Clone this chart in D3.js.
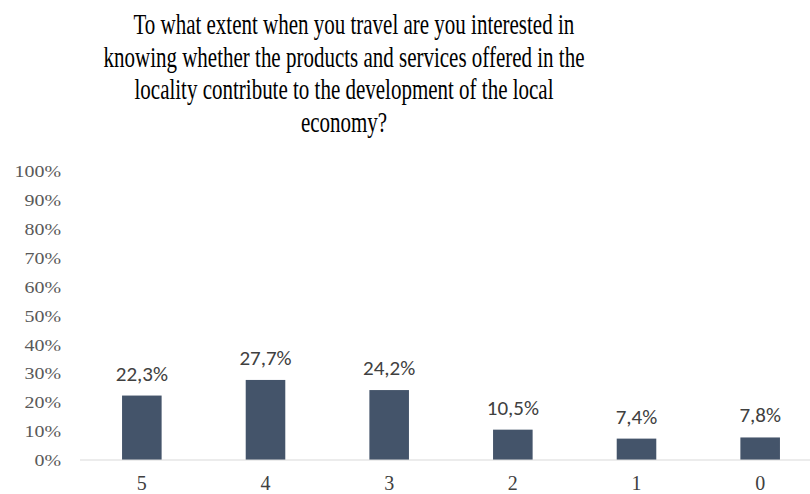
<!DOCTYPE html>
<html>
<head>
<meta charset="utf-8">
<script src="https://cdn.jsdelivr.net/npm/d3@7"></script>
<style>
  html, body { margin: 0; padding: 0; background: #fff; }
  svg { display: block; }
</style>
</head>
<body>
<svg id="chart" width="810" height="494"></svg>
<script>
const categories = ["5", "4", "3", "2", "1", "0"];
const values = [22.3, 27.7, 24.2, 10.5, 7.4, 7.8];
const yTicks = [0, 10, 20, 30, 40, 50, 60, 70, 80, 90, 100];
const titleLines = [
  "To what extent when you travel are you interested in",
  "knowing whether the products and services offered in the",
  "locality contribute to the development of the local",
  "economy?"
];

const SERIF = "'Liberation Serif', 'Times New Roman', serif";
const SANS = "Carlito, 'Open Sans', sans-serif";

const svg = d3.select("#chart");

const x = d3.scaleBand().domain(categories).range([80, 822]).paddingInner(0.68).paddingOuter(0.34);
const y = d3.scaleLinear().domain([0, 100]).range([460, 171]);

// Title: narrow serif, four centred lines (first line sits a little to the right)
const title = svg.append("g").attr("transform", "translate(344,0) scale(0.70,1)");
title.selectAll("text").data(titleLines).join("text")
  .attr("x", (d, i) => i === 0 ? 14 : 0)
  .attr("y", (d, i) => 34.3 + i * 32.6)
  .attr("text-anchor", "middle")
  .style("font-family", SERIF)
  .style("font-size", "30px")
  .style("fill", "#000")
  .text(d => d);

// Y axis labels
const yAxis = d3.axisLeft(y).tickValues(yTicks).tickFormat(d => d + "%").tickSize(0).tickPadding(0);
svg.append("g").attr("transform", "translate(61,0)").call(yAxis)
  .call(g => g.select(".domain").remove())
  .selectAll("text")
  .attr("transform", "scale(1.14,1)")
  .style("font-family", SERIF)
  .style("font-size", "17.5px")
  .style("fill", "#595959");

// Bars
svg.append("g").selectAll("rect").data(values).join("rect")
  .attr("x", (d, i) => x(categories[i]))
  .attr("y", d => y(d))
  .attr("width", x.bandwidth())
  .attr("height", d => y(0) - y(d))
  .attr("fill", "#44546a");

// Baseline
svg.append("line")
  .attr("x1", 80).attr("x2", 810)
  .attr("y1", y(0)).attr("y2", y(0))
  .attr("stroke", "#d9d9d9").attr("stroke-width", 1);

// Value labels
svg.append("g").selectAll("text").data(values).join("text")
  .attr("x", (d, i) => x(categories[i]) + x.bandwidth() / 2)
  .attr("y", d => y(d) - 15)
  .attr("text-anchor", "middle")
  .style("font-family", SANS)
  .style("font-size", "21px")
  .style("fill", "#404040")
  .text(d => d.toFixed(1).replace(".", ",") + "%");

// Category labels
const xAxis = d3.axisBottom(x).tickSize(0).tickPadding(0);
svg.append("g").attr("transform", "translate(0,490)").call(xAxis)
  .call(g => g.select(".domain").remove())
  .selectAll("text")
  .attr("dy", "0")
  .style("font-family", SERIF)
  .style("font-size", "20px")
  .style("fill", "#404040");
</script>
</body>
</html>
